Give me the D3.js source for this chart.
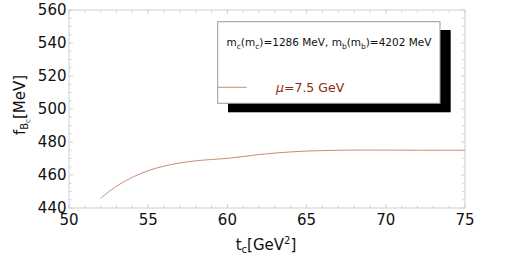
<!DOCTYPE html>
<html><head><meta charset="utf-8">
<script src="https://cdn.jsdelivr.net/npm/d3@7"></script>
<style>body{margin:0;background:#fff}svg{display:block}text{font-family:"DejaVu Sans",sans-serif}</style>
</head><body><svg id="c" width="518" height="264"></svg>
<script>
const tc = [52, 53, 54, 55, 56, 57, 58, 59, 60, 61, 62, 63, 64, 65, 66, 67, 68, 70, 72, 75];
const fB = [446, 453.2, 458.6, 462.6, 465.4, 467.3, 468.6, 469.4, 470.1, 471.2, 472.4, 473.3, 474.0, 474.5, 474.8, 475.0, 475.1, 475.1, 475.0, 475.0];
const xTicks = [50, 55, 60, 65, 70, 75];
const yTicks = [440, 460, 480, 500, 520, 540, 560];
const legendTitle = ["m", "c", "(m", "c", ")=1286 MeV, m", "b", "(m", "b", ")=4202 MeV"];
const seriesLabel = "=7.5 GeV";

const svg = d3.select("#c");
const L = 69, R = 465, T = 10, B = 208;
const x = d3.scaleLinear().domain([50, 75]).range([L, R]);
const y = d3.scaleLinear().domain([440, 560]).range([B, T]);
const gray = "#cfcfcf";

svg.append("rect").attr("x", L).attr("y", T).attr("width", R - L).attr("height", B - T)
  .attr("fill", "none").attr("stroke", gray).attr("stroke-width", 1);

const xMinor = d3.range(50, 75.01, 1);
const yMinor = d3.range(440, 560.01, 5);
const g = svg.append("g").attr("stroke", gray).attr("stroke-width", 1);
xMinor.forEach(v => {
  const len = v % 5 === 0 ? 4 : 2.5;
  g.append("line").attr("x1", x(v)).attr("x2", x(v)).attr("y1", B).attr("y2", B - len);
  g.append("line").attr("x1", x(v)).attr("x2", x(v)).attr("y1", T).attr("y2", T + len);
});
yMinor.forEach(v => {
  const len = v % 20 === 0 ? 4 : 2.5;
  g.append("line").attr("y1", y(v)).attr("y2", y(v)).attr("x1", L).attr("x2", L + len);
  g.append("line").attr("y1", y(v)).attr("y2", y(v)).attr("x1", R).attr("x2", R - len);
});

svg.append("g").selectAll("text").data(xTicks).join("text")
  .attr("x", d => x(d)).attr("y", 225).attr("text-anchor", "middle")
  .attr("font-size", 15).attr("fill", "#111").text(d => d);
svg.append("g").selectAll("text").data(yTicks).join("text")
  .attr("x", 66.5).attr("y", d => y(d) + 5.2).attr("text-anchor", "end")
  .attr("font-size", 15).attr("fill", "#111").text(d => d);

const xt = svg.append("text").attr("x", 266).attr("y", 250).attr("text-anchor", "middle")
  .attr("font-size", 15).attr("fill", "#111");
xt.append("tspan").text("t");
xt.append("tspan").attr("font-size", 10).attr("dy", 3).text("c");
xt.append("tspan").attr("dy", -3).text("[GeV");
xt.append("tspan").attr("font-size", 10).attr("dy", -6).text("2");
xt.append("tspan").attr("dy", 6).text("]");

const yt = svg.append("text").attr("transform", "translate(25,105) rotate(-90)")
  .attr("text-anchor", "middle").attr("font-size", 15).attr("fill", "#111");
yt.append("tspan").text("f");
yt.append("tspan").attr("font-size", 10).attr("dy", 3).text("B");
yt.append("tspan").attr("font-size", 7).attr("dy", 2).text("c");
yt.append("tspan").attr("dy", -5).text("[MeV]");

const line = d3.line().x((d, i) => x(tc[i])).y(d => y(d)).curve(d3.curveCatmullRom);
svg.append("path").attr("d", line(fB)).attr("fill", "none")
  .attr("stroke", "#cf8a76").attr("stroke-width", 1);

svg.append("rect").attr("x", 228).attr("y", 30).attr("width", 222.7).attr("height", 82.3).attr("fill", "#000");
svg.append("rect").attr("x", 217.7).attr("y", 21.7).attr("width", 222.3).attr("height", 81.6)
  .attr("fill", "#fff").attr("stroke", "#999").attr("stroke-width", 1);
const lt = svg.append("text").attr("x", 226.5).attr("y", 46).attr("font-size", 10.5).attr("fill", "#111");
legendTitle.forEach((s, i) => {
  const sub = i % 2 === 1 && i < 8;
  const t = lt.append("tspan").text(s).attr("font-size", sub ? 7.5 : 10.5);
  if (sub) t.attr("dy", 2.5); else if (i > 0) t.attr("dy", -2.5);
});
svg.append("line").attr("x1", 218).attr("x2", 246.7).attr("y1", 87.3).attr("y2", 87.3)
  .attr("stroke", "#cf8a76").attr("stroke-width", 1);
const st = svg.append("text").attr("x", 276).attr("y", 92).attr("font-size", 12.5).attr("fill", "#8b2a12");
st.append("tspan").attr("font-style", "italic").text("\u03bc");
st.append("tspan").text(seriesLabel);
</script></body></html>
